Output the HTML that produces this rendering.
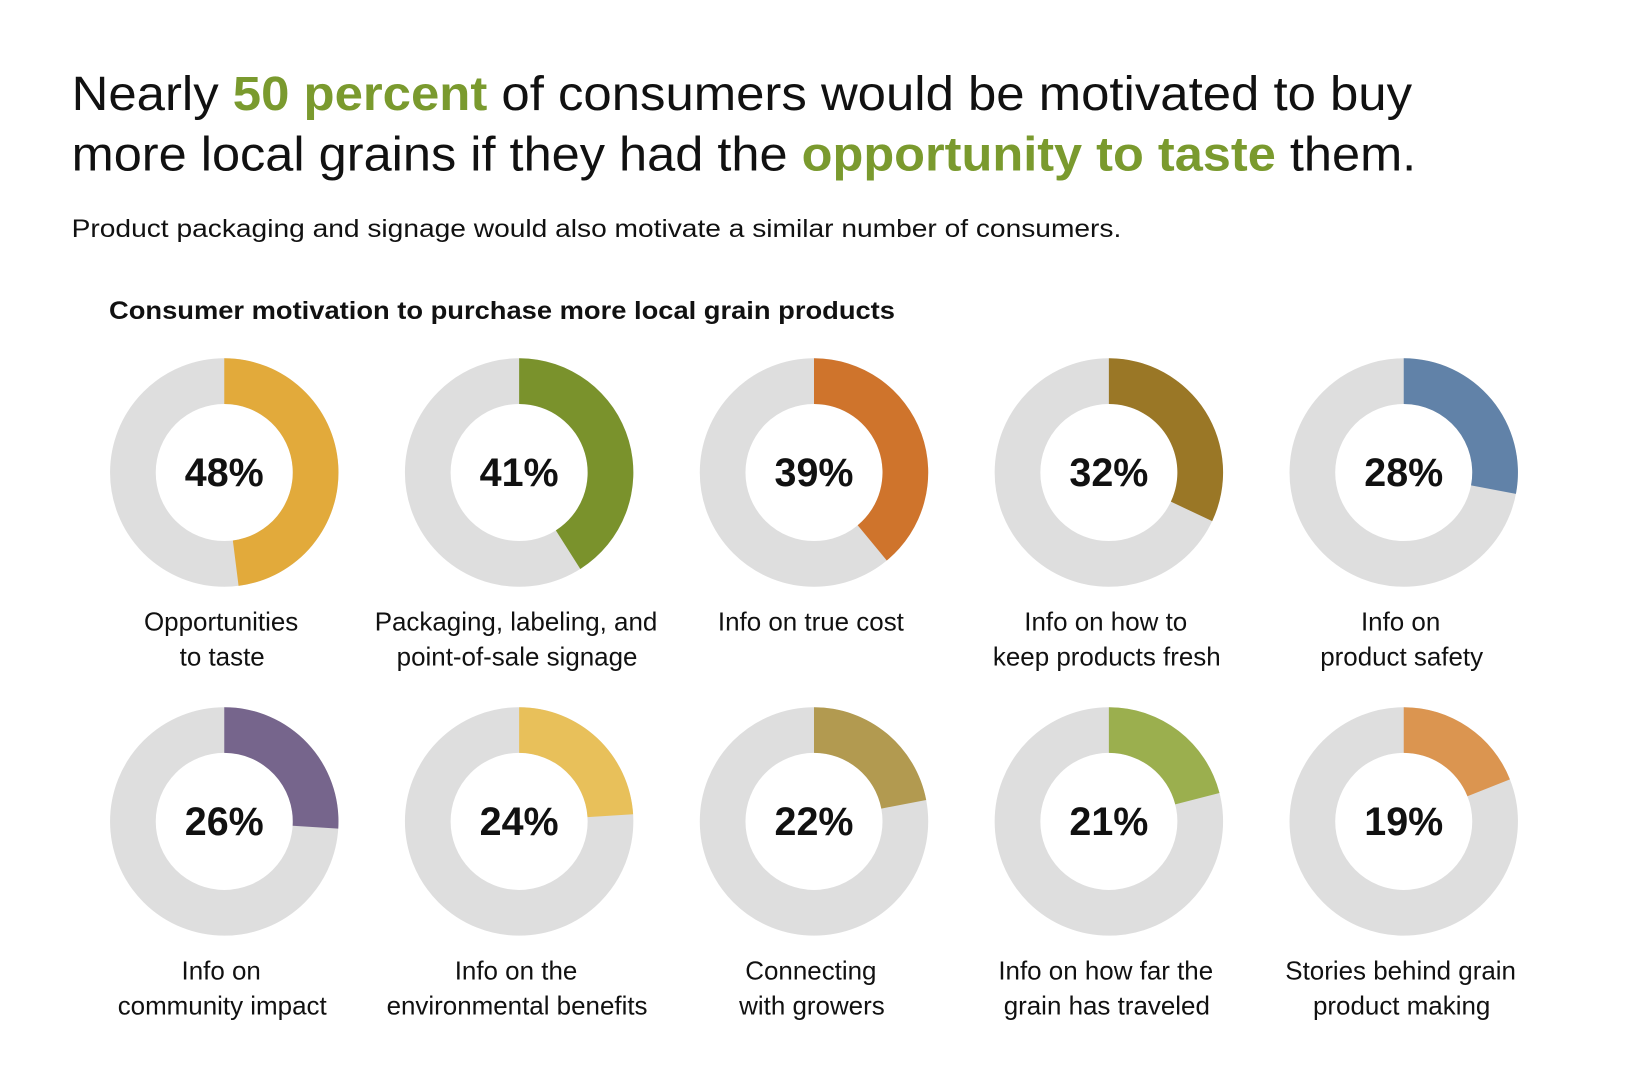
<!DOCTYPE html>
<html><head><meta charset="utf-8"><style>
html,body{margin:0;padding:0;background:#fff;}
svg{display:block;font-family:"Liberation Sans",sans-serif;}
</style></head><body>
<svg id="chart" width="1628" height="1080" viewBox="0 0 1568 1040" preserveAspectRatio="none">
<text x="69" y="106" font-size="46" fill="#111" textLength="1291" lengthAdjust="spacingAndGlyphs">Nearly <tspan fill="#7a9a2e" font-weight="bold">50 percent</tspan> of consumers would be motivated to buy</text>
<text x="69" y="164" font-size="46" fill="#111" textLength="1295" lengthAdjust="spacingAndGlyphs">more local grains if they had the <tspan fill="#7a9a2e" font-weight="bold">opportunity to taste</tspan> them.</text>
<text x="69" y="228" font-size="24" fill="#111" textLength="1011" lengthAdjust="spacingAndGlyphs">Product packaging and signage would also motivate a similar number of consumers.</text>
<text x="105" y="307" font-size="24" font-weight="bold" fill="#111" textLength="757" lengthAdjust="spacingAndGlyphs">Consumer motivation to purchase more local grain products</text>
<g id="donuts"></g>
</svg>
<script>
const values = [48, 41, 39, 32, 28, 26, 24, 22, 21, 19];
const labelsLine1 = ["Opportunities","Packaging, labeling, and","Info on true cost","Info on how to","Info on","Info on","Info on the","Connecting","Info on how far the","Stories behind grain"];
const labelsLine2 = ["to taste","point-of-sale signage","","keep products fresh","product safety","community impact","environmental benefits","with growers","grain has traveled","product making"];
const colors = ["#e2aa3b","#7a922c","#cf742c","#9a7726","#6182a8","#76658c","#e8c05a","#b29a50","#9baf4e","#db9550"];
const NS="http://www.w3.org/2000/svg";
const g=document.getElementById('donuts');
const R=110, r=66;
function mk(t,a){const e=document.createElementNS(NS,t);for(const k in a)e.setAttribute(k,a[k]);return e;}
function pt(cx,cy,rad,f){const a=f*2*Math.PI;return [cx+rad*Math.sin(a),cy-rad*Math.cos(a)];}
values.forEach((v,i)=>{
  const col=i%5,row=Math.floor(i/5);
  const cx=216+col*284, cy=row?791:455;
  const bg=mk('circle',{cx:cx,cy:cy,r:(R+r)/2,fill:'none',stroke:'#dedede','stroke-width':R-r});
  
  
  g.appendChild(bg);
  const f=v/100, large=f>0.5?1:0;
  const [x1,y1]=pt(cx,cy,R,0),[x2,y2]=pt(cx,cy,R,f),[x3,y3]=pt(cx,cy,r,f),[x4,y4]=pt(cx,cy,r,0);
  const p=mk('path',{d:`M${x1} ${y1}A${R} ${R} 0 ${large} 1 ${x2} ${y2}L${x3} ${y3}A${r} ${r} 0 ${large} 0 ${x4} ${y4}Z`,fill:colors[i]});
  
  
  g.appendChild(p);
  const t=mk('text',{x:cx,y:cy+13,'text-anchor':'middle','font-size':38,'font-weight':'bold',fill:'#111'});
  t.textContent=v+'%';
  
  
  g.appendChild(t);
  const ly=row?943:607;
  const l1=mk('text',{x:cx-3,y:ly,'text-anchor':'middle','font-size':25,fill:'#111'});
  l1.textContent=labelsLine1[i];
  
  
  g.appendChild(l1);
  if(labelsLine2[i]){
    const l2=mk('text',{x:cx-2,y:ly+34,'text-anchor':'middle','font-size':25,fill:'#111'});
    l2.textContent=labelsLine2[i];
    
    
    g.appendChild(l2);
  }
});
</script>
</body></html>
